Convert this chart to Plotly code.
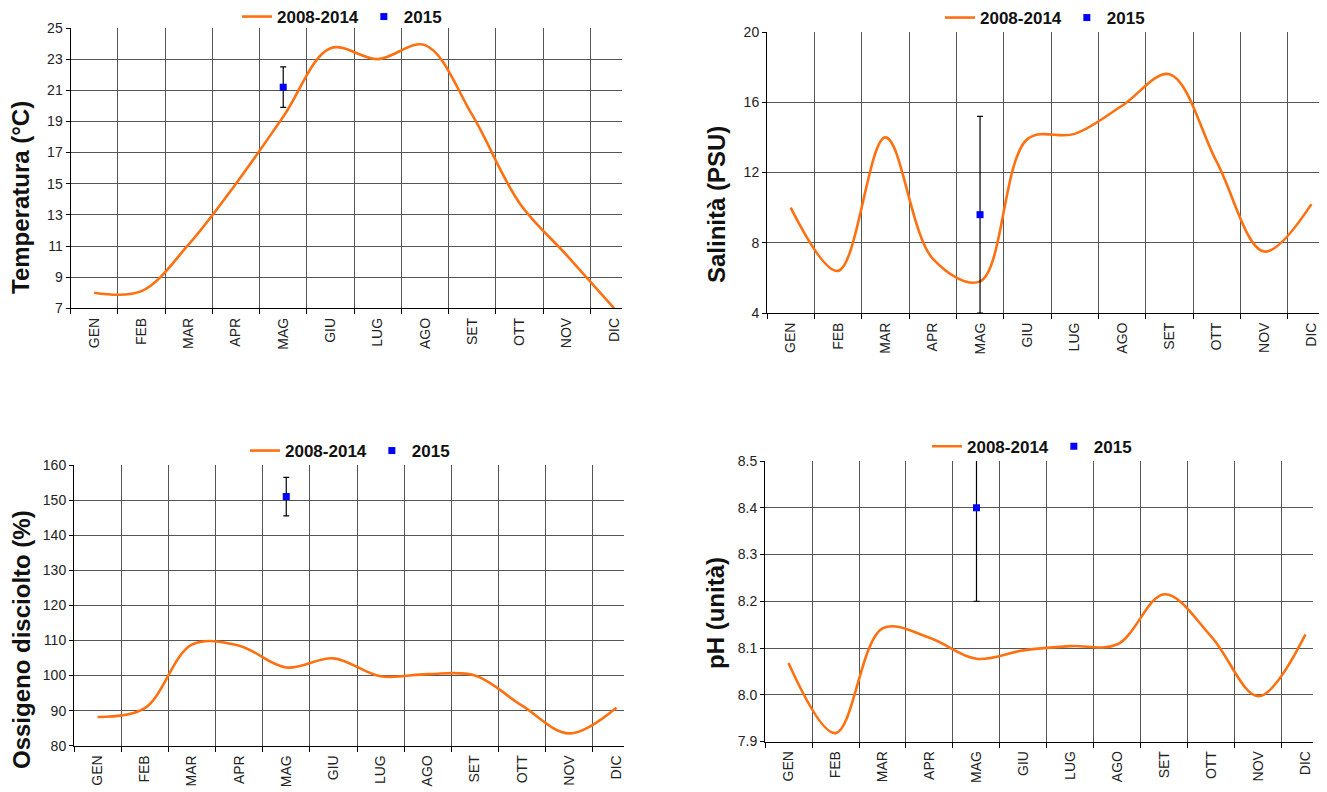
import plotly.graph_objects as go

W, H = 1327, 792          # browser window
OFF = 8                   # default page body margin
WF, HF = W - OFF, H - OFF  # figure size

months = ["GEN", "FEB", "MAR", "APR", "MAG", "GIU", "LUG", "AGO", "SET", "OTT", "NOV", "DIC"]

temp_2008_2014 = [8.0, 8.1, 11.1, 15.0, 19.3, 23.7, 23.0, 23.9, 19.4, 13.75, 10.4, 7.0]
temp_2015 = 21.2
temp_2015_err = 1.3

sal_2008_2014 = [10.0, 6.4, 14.0, 7.1, 5.8, 13.9, 14.2, 15.8, 17.6, 12.6, 7.5, 10.2]
sal_2015 = 9.6
sal_2015_err = 5.6

oxy_2008_2014 = [88.2, 90.7, 108.8, 108.5, 102.3, 104.9, 99.8, 100.4, 100.0, 91.4, 83.5, 90.8]
oxy_2015 = 151.0
oxy_2015_err = 5.5

ph_2008_2014 = [8.068, 7.918, 8.142, 8.122, 8.077, 8.095, 8.104, 8.108, 8.215, 8.124, 7.997, 8.129]
ph_2015 = 8.40
ph_2015_err = 0.20

month_2015 = "MAG"

titles = ["Temperatura (°C)", "Salinità (PSU)", "Ossigeno disciolto (%)", "pH (unità)"]
series_names = ["2008-2014", "2015"]

ORANGE = "#FF7010"
BLUE = "#0000FF"
GRID = "#555555"
FONT = "Liberation Sans, Arial, sans-serif"

xpos = list(range(len(months)))
x2015 = months.index(month_2015)


def px(x):
    return (x - OFF) / WF


def py(y):
    return 1 - (y - OFF) / HF


# panel boxes in screen pixels: (left, right, top, bottom)
boxes = [
    (70.5, 621.7, 28, 308.3),
    (767, 1319, 32, 313),
    (74, 624, 465, 745.7),
    (765, 1313, 461, 741.5),
]
yranges = [(7, 25, 2, None), (4, 20, 4, None), (80, 160, 10, None), (7.9, 8.5, 0.1, ".1f")]
title_pos = [(21, 198), (717, 205), (21, 640), (715, 613)]
legend_pos = [(237, 17), (940, 18), (245, 451), (927, 446.7)]

lines = [temp_2008_2014, sal_2008_2014, oxy_2008_2014, ph_2008_2014]
pts = [(temp_2015, temp_2015_err), (sal_2015, sal_2015_err), (oxy_2015, oxy_2015_err), (ph_2015, ph_2015_err)]

fig = go.Figure()
layout = dict(
    width=WF, height=HF, margin=dict(l=0, r=0, t=0, b=0, autoexpand=False),
    paper_bgcolor="white", plot_bgcolor="white",
    font=dict(family=FONT, color="#222222"),
    annotations=[],
)

for i in range(4):
    n = "" if i == 0 else str(i + 1)
    xa, ya = "x" + n, "y" + n
    leg = "legend" + n
    l, r, t, b = boxes[i]
    fig.add_trace(go.Scatter(
        x=xpos, y=lines[i], mode="lines", name=series_names[0],
        line=dict(color=ORANGE, width=2.6, shape="spline", smoothing=1.0),
        xaxis=xa, yaxis=ya, legend=leg, hoverinfo="skip",
    ))
    v, e = pts[i]
    fig.add_trace(go.Scatter(
        x=[x2015], y=[v], mode="markers", name=series_names[1],
        marker=dict(color=BLUE, size=7, symbol="square"),
        error_y=dict(type="constant", value=e, color="black", thickness=1.2, width=3),
        xaxis=xa, yaxis=ya, legend=leg, hoverinfo="skip",
    ))
    lo, hi, dt, fmt = yranges[i]
    layout["xaxis" + n] = dict(
        domain=[px(l), px(r)], anchor=ya, range=[-0.5, 11.16],
        tickmode="array", tickvals=xpos, ticktext=months, tickangle=-90,
        ticks="outside", ticklen=3, tickcolor="rgba(0,0,0,0)",
        tickfont=dict(size=14, family=FONT, color="#222222"),
        showgrid=False, zeroline=False, showline=True, linecolor="black", linewidth=1,
        minor=dict(tickmode="array", tickvals=[k - 0.5 for k in range(len(months))],
                   showgrid=True, gridcolor=GRID, gridwidth=1,
                   ticks="outside", ticklen=5, tickcolor="black"),
        fixedrange=True,
    )
    layout["yaxis" + n] = dict(
        domain=[py(b), py(t)], anchor=xa, range=[lo, hi],
        tickmode="linear", tick0=lo, dtick=dt, tickformat=fmt,
        ticks="outside", ticklen=4, tickcolor="black",
        tickfont=dict(size=14, family=FONT, color="#222222"),
        showgrid=True, gridcolor=GRID, gridwidth=1,
        zeroline=False, showline=True, linecolor="black", linewidth=1,
        fixedrange=True,
    )
    lx, ly = legend_pos[i]
    layout[leg] = dict(
        orientation="h", x=px(lx), y=py(ly), xanchor="left", yanchor="middle",
        bgcolor="rgba(0,0,0,0)", borderwidth=0,
        font=dict(size=17, family=FONT, color="#111111", weight="bold"),
        itemwidth=30, tracegroupgap=0,
    )
    tx, ty = title_pos[i]
    layout["annotations"].append(dict(
        text="<b>" + titles[i] + "</b>", x=px(tx), y=py(ty), xref="paper", yref="paper",
        xanchor="center", yanchor="middle", textangle=-90, showarrow=False,
        font=dict(size=24, family=FONT, color="#111111"),
    ))

fig.update_layout(**layout)
fig.write_html("out.html")
